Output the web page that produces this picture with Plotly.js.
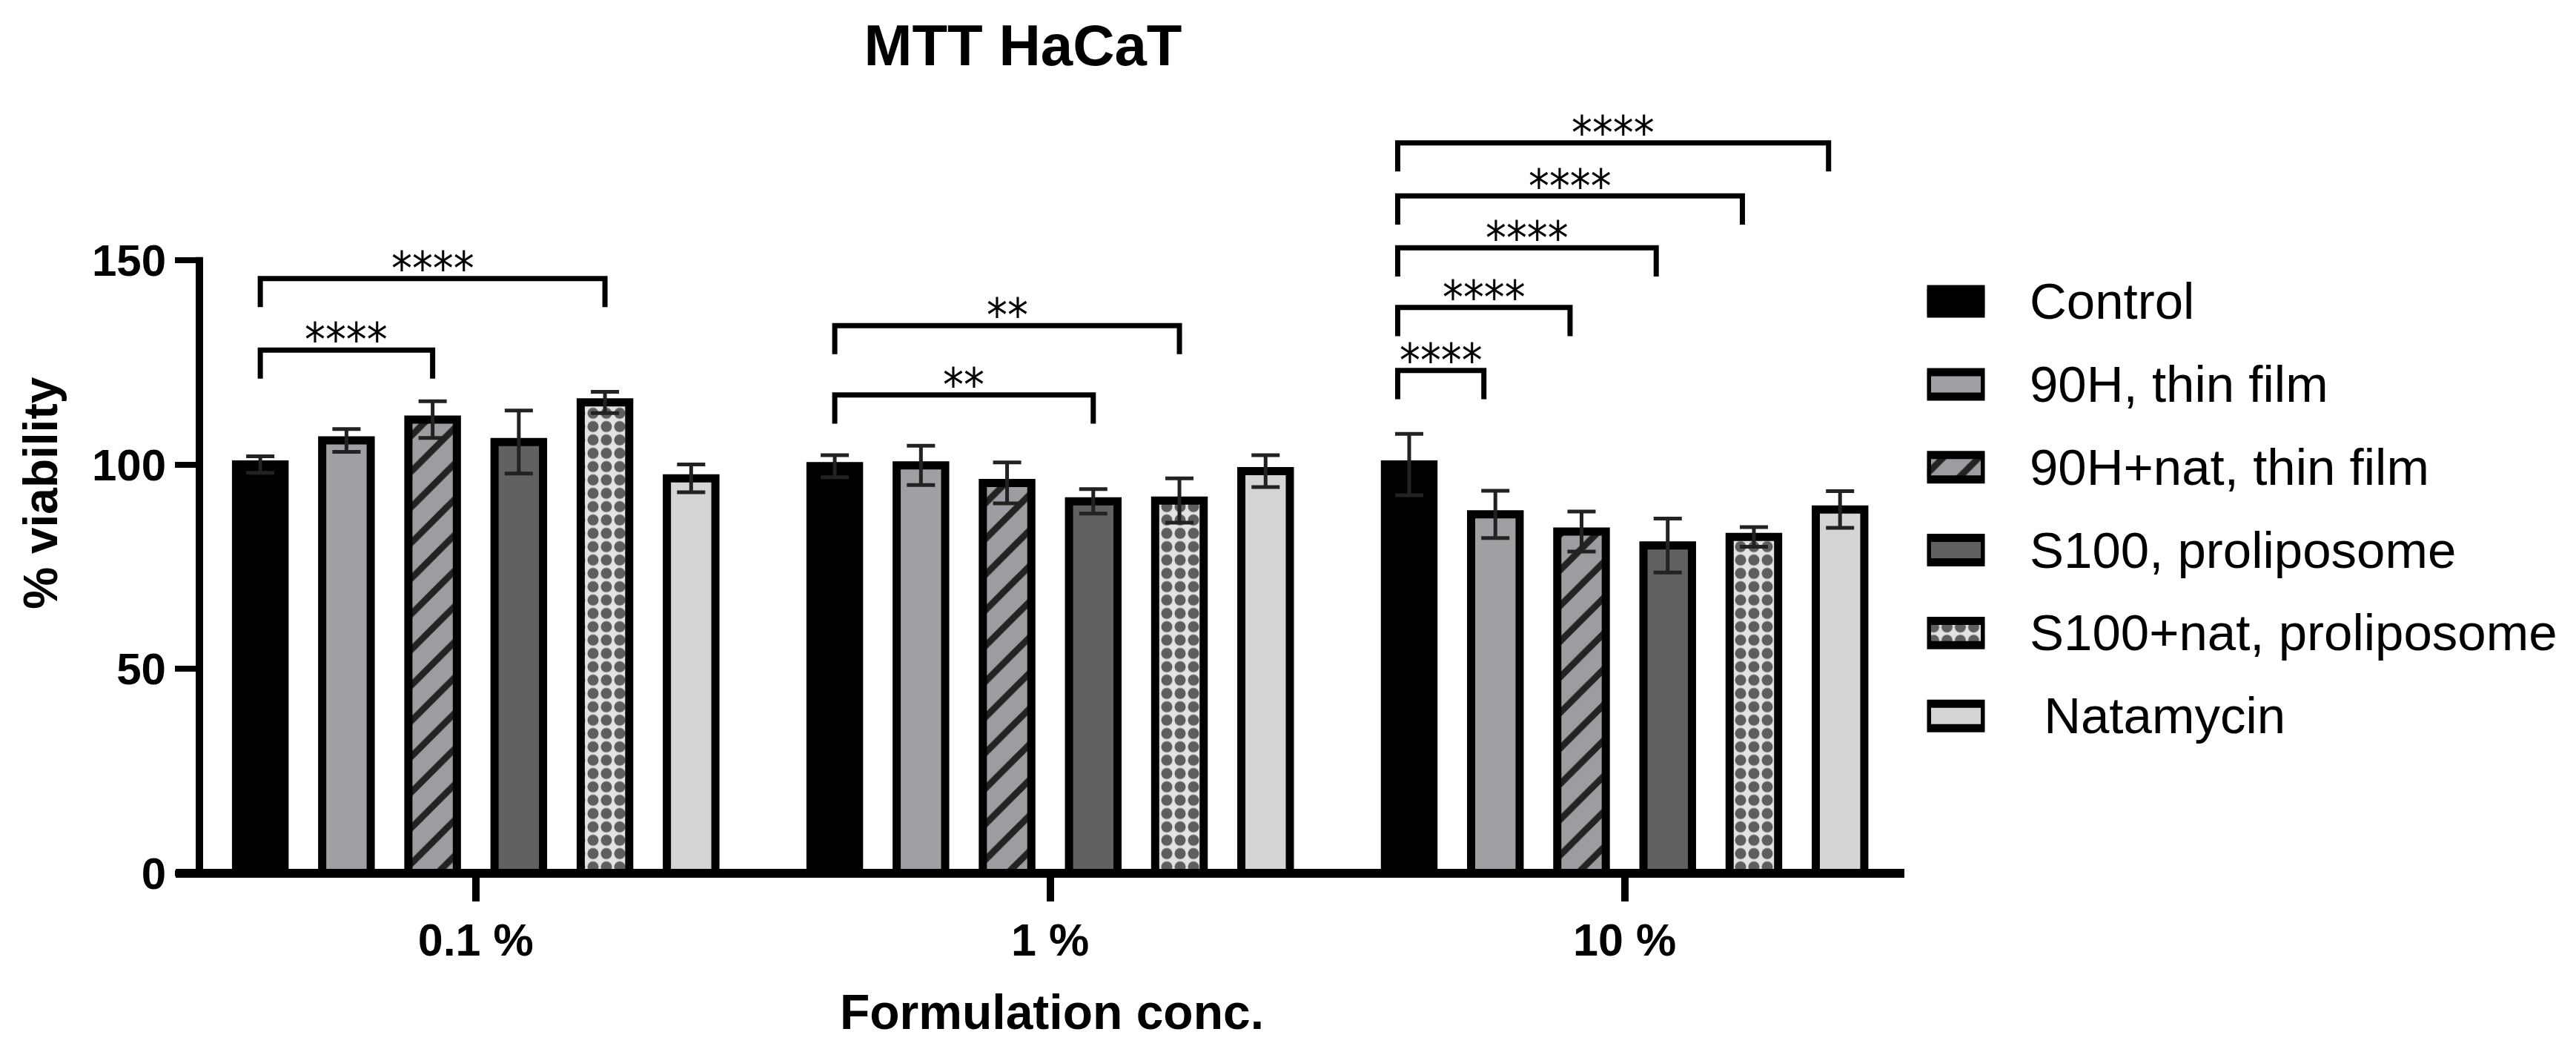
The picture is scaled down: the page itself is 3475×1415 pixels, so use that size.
<!DOCTYPE html>
<html>
<head>
<meta charset="utf-8">
<script src="https://cdn.plot.ly/plotly-3.0.1.min.js"></script>
<style>html,body{margin:0;padding:0;background:#fff;}#chart{width:3475px;height:1415px;}</style>
</head>
<body>
<div id="chart"></div>
<script>
// ---- data ----
const categories = ['0.1 %', '1 %', '10 %'];
const seriesNames = ['Control', '90H, thin film', '90H+nat, thin film', 'S100, proliposome', 'S100+nat, proliposome', 'Natamycin'];
const controlVals   = [100.0, 99.6, 100.0];
const controlErr    = [2.0, 2.7, 7.5];
const h90Vals       = [105.9, 99.8, 87.8];
const h90Err        = [2.8, 4.8, 5.8];
const h90natVals    = [111.0, 95.5, 83.6];
const h90natErr     = [4.5, 5.0, 4.9];
const s100Vals      = [105.5, 91.0, 80.2];
const s100Err       = [7.7, 3.0, 6.6];
const s100natVals   = [115.2, 91.2, 82.3];
const s100natErr    = [2.6, 5.4, 2.4];
const natVals       = [96.6, 98.4, 89.0];
const natErr        = [3.4, 3.9, 4.5];
const yTicks = [0, 50, 100, 150];

// significance brackets: group index, series from, series to, bracket height, label
const sigGroup  = [0, 0, 1, 1, 2, 2, 2, 2, 2];
const sigFrom   = [0, 0, 0, 0, 0, 0, 0, 0, 0];
const sigTo     = [2, 4, 3, 4, 1, 2, 3, 4, 5];
const sigHeight = [128, 145.5, 117, 134, 123, 138.4, 153, 165.7, 178.7];
const sigLabel  = ['****', '****', '**', '**', '****', '****', '****', '****', '****'];

// ---- styles ----
const values = [controlVals, h90Vals, h90natVals, s100Vals, s100natVals, natVals];
const errs = [controlErr, h90Err, h90natErr, s100Err, s100natErr, natErr];
const fills = ['#000000', '#a0a0a4', '#9d9da1', '#616161', '#e2e2e2', '#d4d4d4'];
const patterns = [
  null, null,
  {shape: '/', fgcolor: '#232323', bgcolor: '#9d9da1', size: 34, solidity: 0.26},
  null,
  {shape: '.', fgcolor: '#5e5e5e', bgcolor: '#e2e2e2', size: 18, solidity: 0.55},
  null
];
const BARGAP = 0.1, BARGROUPGAP = 0.437, LINEW = 11;
const nS = seriesNames.length;
const slot = (1 - BARGAP) / nS;
const FONT = 'Liberation Sans, Arial, sans-serif';

function markerFor(i) {
  const m = {color: fills[i], line: {color: '#000', width: LINEW}};
  if (patterns[i]) m.pattern = patterns[i];
  return m;
}

const traces = [];
for (let i = 0; i < nS; i++) {
  traces.push({
    type: 'bar', name: seriesNames[i], x: categories, y: values[i],
    marker: markerFor(i),
    error_y: {type: 'data', array: errs[i], visible: true, color: '#222', thickness: 5, width: 19},
    showlegend: false, hoverinfo: 'skip'
  });
}
// legend swatches drawn as bars in a small auxiliary subplot
for (let i = 0; i < nS; i++) {
  traces.push({
    type: 'bar', orientation: 'h', x: [1], y: [i], width: 0.295, offset: -0.1475,
    base: 0, marker: markerFor(i), xaxis: 'x2', yaxis: 'y2',
    showlegend: false, hoverinfo: 'skip'
  });
}

const annotations = [];
const shapes = [];
const pos = (g, k) => g + (k - (nS - 1) / 2) * slot;
const DROP = 7;
for (let j = 0; j < sigGroup.length; j++) {
  const xa = pos(sigGroup[j], sigFrom[j]) - (sigGroup[j] === 2 ? 0.02 : 0);
  const xb = pos(sigGroup[j], sigTo[j]) - (sigGroup[j] === 2 ? 0.02 : 0);
  const h = sigHeight[j];
  shapes.push({type: 'path', xref: 'x', yref: 'y',
    path: `M ${xa},${h - DROP} L ${xa},${h} L ${xb},${h} L ${xb},${h - DROP}`,
    line: {color: '#000', width: 7}});
  annotations.push({xref: 'x', yref: 'y', x: (xa + xb) / 2, y: h + 2.4, text: sigLabel[j],
    showarrow: false, yanchor: 'middle', xanchor: 'center',
    font: {family: 'DejaVu Sans Condensed, DejaVu Sans, sans-serif', size: 62, color: '#000'}});
}
// legend labels
for (let i = 0; i < nS; i++) {
  annotations.push({xref: 'paper', yref: 'y2', x: 2736 / 3475, y: i, xanchor: 'left', yanchor: 'middle',
    text: (i === nS - 1 ? '\u00a0' : '') + seriesNames[i], showarrow: false,
    font: {family: FONT, size: 69, color: '#000'}});
}

// axis lines (y axis stops at 150)
const yDom = [237 / 1415, 1 - 152.4 / 1415];
const xDom = [269 / 3475, 2569 / 3475];
const YMAX = 186;
const yPaper = v => yDom[0] + (yDom[1] - yDom[0]) * v / YMAX;
shapes.push({type: 'line', xref: 'paper', yref: 'paper', x0: xDom[0], x1: xDom[0],
  y0: yDom[0] - 0.004, y1: yPaper(150) + 0.003, line: {color: '#000', width: 10}});
shapes.push({type: 'line', xref: 'paper', yref: 'paper', x0: 237 / 3475, x1: xDom[1],
  y0: yDom[0], y1: yDom[0], line: {color: '#000', width: 12}});

const layout = {
  width: 3475, height: 1415,
  margin: {l: 0, r: 0, t: 0, b: 0},
  paper_bgcolor: '#fff', plot_bgcolor: '#fff',
  barmode: 'group', bargap: BARGAP, bargroupgap: BARGROUPGAP,
  showlegend: false,
  title: {text: 'MTT HaCaT', x: 1380 / 3475, xanchor: 'center', xref: 'paper',
    y: 1 - 61 / 1415, yanchor: 'middle', yref: 'container',
    font: {family: FONT, size: 78, weight: 'bold', color: '#000'}},
  xaxis: {
    domain: xDom, type: 'category', range: [-0.481, 2.487], automargin: false,
    showline: false, showgrid: false, zeroline: false,
    ticks: 'outside', ticklen: 37, tickwidth: 10, tickcolor: '#000',
    tickfont: {family: FONT, size: 61, weight: 'bold', color: '#000'},
    title: {text: 'Formulation conc.', standoff: 40, font: {family: FONT, size: 66, weight: 'bold', color: '#000'}}
  },
  yaxis: {
    domain: yDom, range: [0, YMAX], automargin: false,
    showline: false, showgrid: false, zeroline: false,
    tickvals: yTicks, ticktext: yTicks.map(String),
    ticks: 'outside', ticklen: 32, tickwidth: 8, tickcolor: '#000',
    tickfont: {family: FONT, size: 60, weight: 'bold', color: '#000'},
    title: {text: '% viability', standoff: 25, font: {family: FONT, size: 64, weight: 'bold', color: '#000'}}
  },
  xaxis2: {domain: [2599.5 / 3475, 2677.5 / 3475], range: [0, 1], visible: false, anchor: 'y2'},
  yaxis2: {domain: [1 - 1021.6 / 1415, 1 - 350.7 / 1415], range: [5.5, -0.5], visible: false, anchor: 'x2'},
  shapes: shapes,
  annotations: annotations
};

Plotly.newPlot('chart', traces, layout, {staticPlot: true, displayModeBar: false});
</script>
</body>
</html>
